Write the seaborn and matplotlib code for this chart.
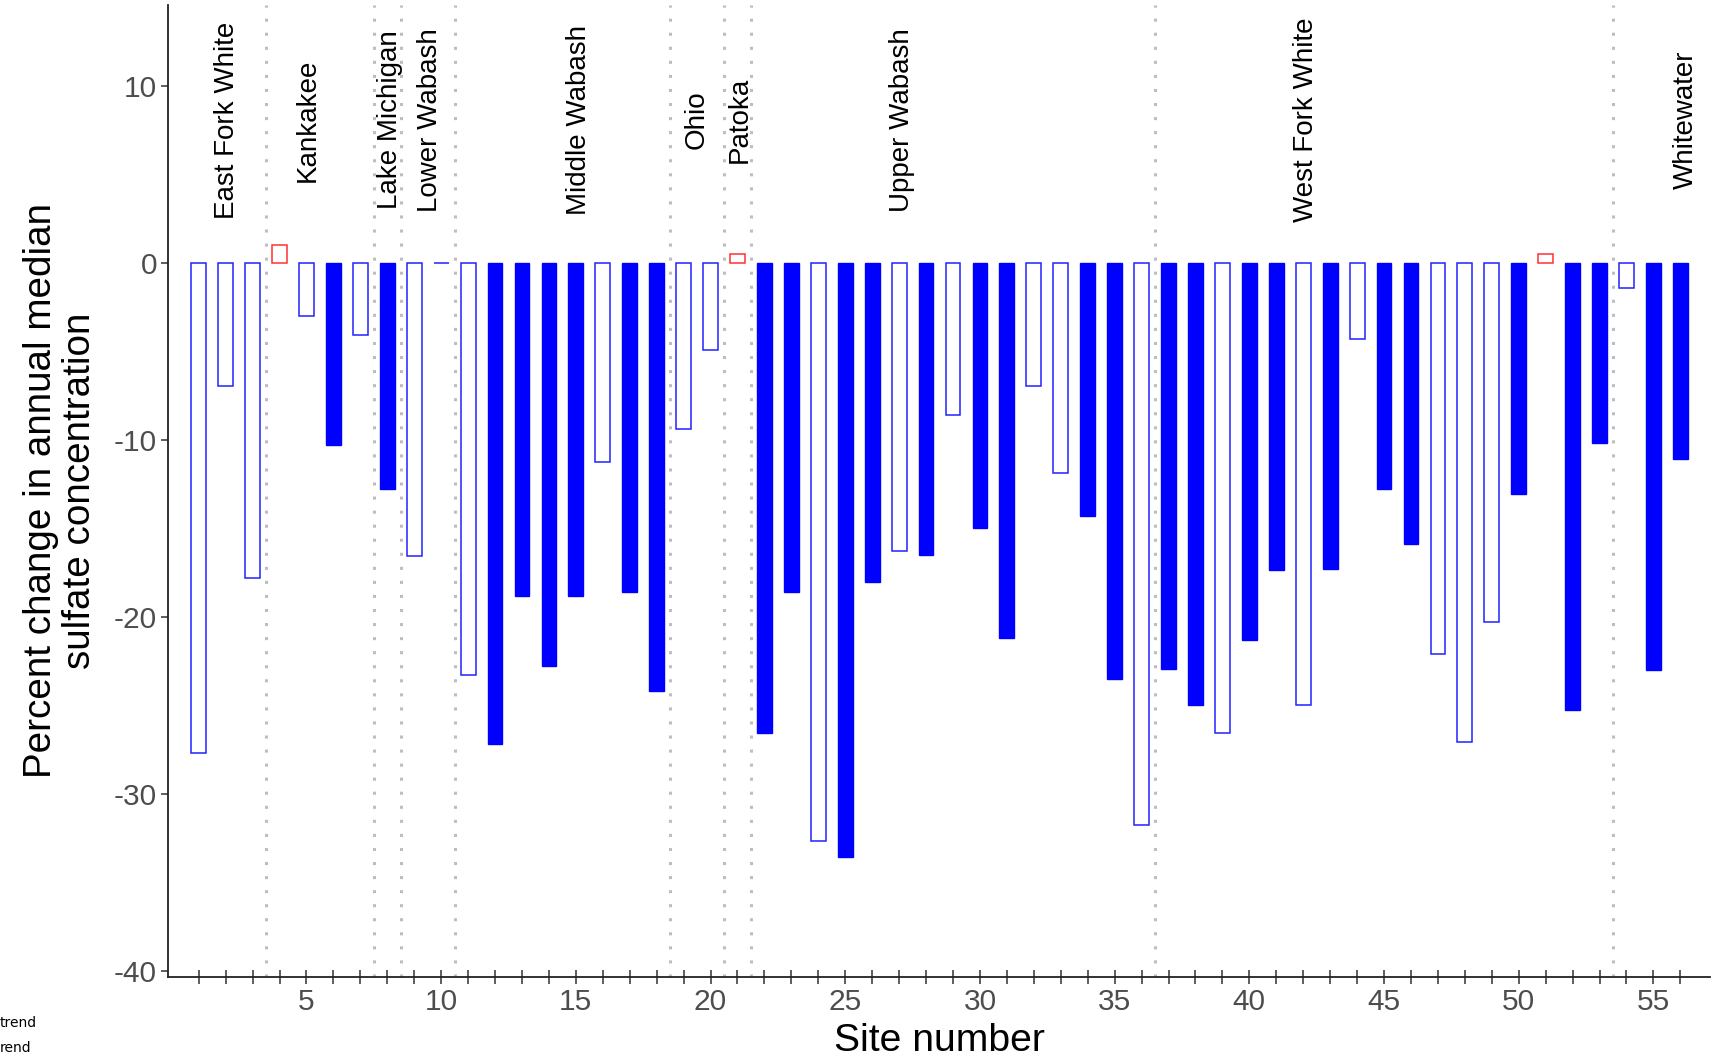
import matplotlib
matplotlib.use("Agg")
import matplotlib.pyplot as plt
import seaborn as sns
import pandas as pd
import numpy as np

# ---- data ----
sites = list(range(1, 57))
pct_change = [-27.7, -7.0, -17.8, 1.0, -3.0, -10.3, -4.1, -12.8, -16.6, -0.05,
              -23.3, -27.2, -18.85, -22.8, -18.85, -11.25, -18.6, -24.2, -9.4, -4.95,
              0.5, -26.6, -18.6, -32.7, -33.6, -18.05, -16.3, -16.5, -8.6, -15.0,
              -21.2, -7.0, -11.9, -14.3, -23.5, -31.8, -22.95, -25.0, -26.6, -21.3,
              -17.35, -25.0, -17.3, -4.3, -12.8, -15.9, -22.1, -27.1, -20.3, -13.1,
              0.5, -25.3, -10.2, -1.45, -23.0, -11.1]
# 1 = significant downward (filled), 0 = not significant downward (open), 2 = upward (red open)
trend_class = [0, 0, 0, 2, 0, 1, 0, 1, 0, 0,
               0, 1, 1, 1, 1, 0, 1, 1, 0, 0,
               2, 1, 1, 0, 1, 1, 0, 1, 0, 1,
               1, 0, 0, 1, 1, 0, 1, 1, 0, 1,
               1, 0, 1, 0, 1, 1, 0, 0, 0, 1,
               2, 1, 1, 0, 1, 1]
basin_names = ["East Fork White", "Kankakee", "Lake Michigan", "Lower Wabash",
               "Middle Wabash", "Ohio", "Patoka", "Upper Wabash",
               "West Fork White", "Whitewater"]
basin_label_x = [2.05, 5.05, 8.1, 9.6, 15.1, 19.5, 21.1, 27.1, 42.1, 56.2]
basin_breaks = [3.5, 7.5, 8.5, 10.5, 18.5, 20.5, 21.5, 36.5, 53.5]
y_ticks = [-40, -30, -20, -10, 0, 10]

df = pd.DataFrame({"site": sites, "pct": pct_change, "cls": trend_class})

# ---- style ----
sns.set_style("ticks")
plt.rcParams["font.family"] = ["Liberation Sans", "DejaVu Sans"]

fig = plt.figure(figsize=(17.16, 10.60), dpi=100)
ax = fig.add_axes([168 / 1716, 1 - 977 / 1060, (1710 - 168) / 1716, (977 - 5) / 1060])

sns.barplot(data=df, x="site", y="pct", native_scale=True, width=0.55,
            errorbar=None, color="blue", ax=ax, zorder=3)

cls_by_site = dict(zip(sites, trend_class))
for p in ax.patches:
    s = int(round(p.get_x() + p.get_width() / 2))
    c = cls_by_site.get(s, 0)
    if c == 1:
        p.set_facecolor("#0000FF")
        p.set_edgecolor("#0000FF")
        p.set_linewidth(1.0)
    elif c == 0:
        p.set_facecolor("white")
        p.set_edgecolor("#2222FF")
        p.set_linewidth(1.1)
    else:
        p.set_facecolor("white")
        p.set_edgecolor("#FF3030")
        p.set_linewidth(1.1)

for xb in basin_breaks:
    ax.axvline(xb, color="#BEBEBE", linewidth=2.2, linestyle=(0, (1, 3.6)), zorder=1)

for name, xl in zip(basin_names, basin_label_x):
    ax.text(xl, 8.05, name, rotation=90, ha="center", va="center",
            fontsize=20, color="black", zorder=4)

ax.set_xlim(-0.14, 57.1)
ax.set_ylim(-40.36, 14.55)
ax.set_xticks(sites)
ax.set_xticklabels([str(s) if s % 5 == 0 else "" for s in sites])
ax.set_yticks(y_ticks)
ax.set_yticklabels([str(v) for v in y_ticks])

ax.tick_params(axis="x", direction="inout", length=10, width=1.1, colors="#333333",
               labelcolor="#4D4D4D", labelsize=21.5, pad=3)
ax.tick_params(axis="y", direction="out", length=5, width=1.1, colors="#333333",
               labelcolor="#4D4D4D", labelsize=21.5, pad=3)

for side in ["top", "right"]:
    ax.spines[side].set_visible(False)
for side in ["left", "bottom"]:
    ax.spines[side].set_color("#222222")
    ax.spines[side].set_linewidth(1.3)

ax.set_xlabel("Site number", fontsize=28.2, color="black", labelpad=5)
ax.set_ylabel("Percent change in annual median\nsulfate concentration",
              fontsize=27.8, color="black", labelpad=11, linespacing=1.12)

fig.text(0.0, 1 - 1023 / 1060, "trend", fontsize=10, family="DejaVu Sans",
         ha="left", va="center", color="black")
fig.text(0.0, 1 - 1048 / 1060, "rend", fontsize=10, family="DejaVu Sans",
         ha="left", va="center", color="black")

fig.savefig("out.png", dpi=100, facecolor="white")
